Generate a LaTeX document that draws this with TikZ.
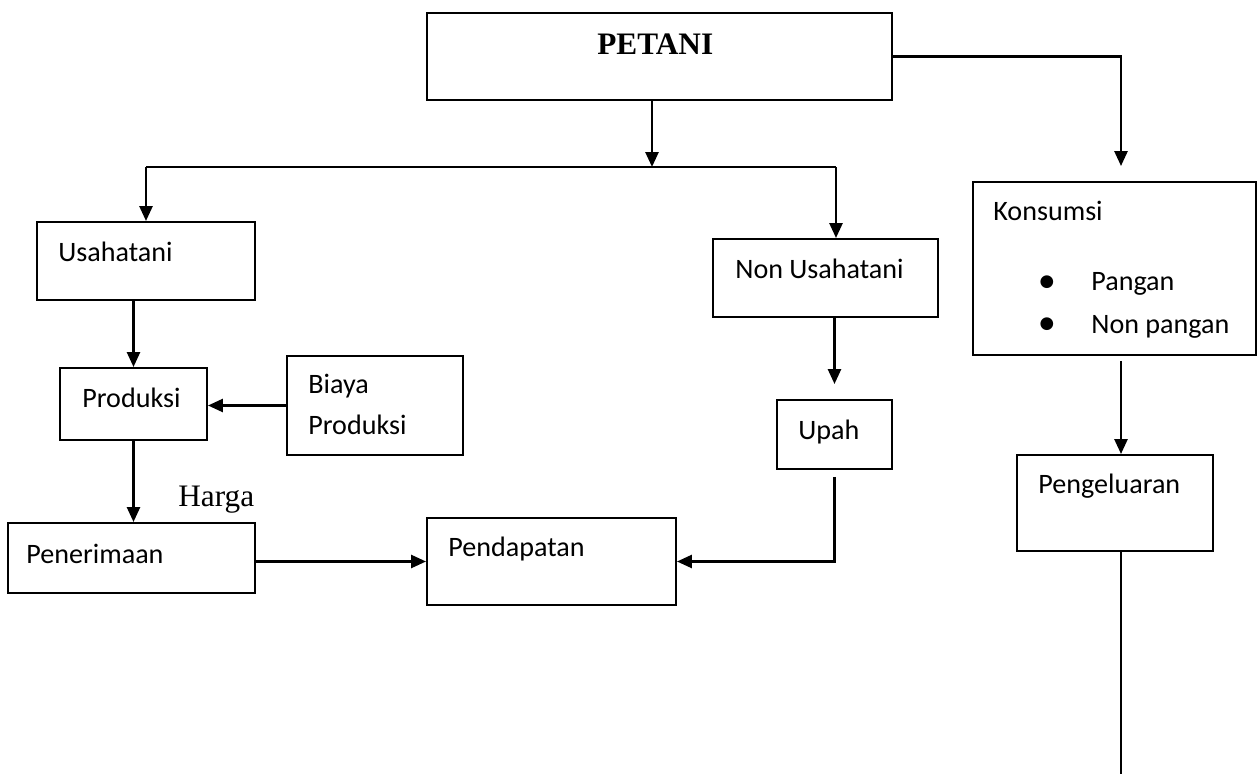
\documentclass[tikz,border=0pt]{standalone}
\usepackage{fontspec}
\setmainfont{Carlito}
\newfontfamily\timesfont{Liberation Serif}
\newfontfamily\dotfont{DejaVu Sans}
\usepackage{tikz}
\usetikzlibrary{fit}
\usetikzlibrary{positioning, shapes, arrows.meta, calc}

\tikzset{
    box/.style={draw, line width=1.1pt, inner sep=0pt},
    txt/.style={anchor=base west, inner sep=0pt, font=\fontsize{16}{19}\selectfont},
    serif/.style={anchor=base west, inner sep=0pt, font=\timesfont\fontsize{17.8}{21}\selectfont},
    dot/.style={inner sep=0pt, font=\dotfont\fontsize{9.5}{11}\selectfont},
    line/.style={line width=1.5pt},
    conn/.style={line width=1.5pt, -{Triangle[length=0.3cm, width=0.26cm]}}
}

\begin{document}
\begin{tikzpicture}[x=0.02cm, y=-0.02cm]
        \useasboundingbox (0,0) rectangle (1259,774);

        % Draw the boxes
        \node[box, fit={(427,13) (892,100)}] (petani) {};
        \node[box, fit={(37,222) (255,300)}] (usaha) {};
        \node[box, fit={(60,368) (207,440)}] (produksi) {};
        \node[box, fit={(287,356) (463,455)}] (biaya) {};
        \node[box, fit={(8,523) (255,593)}] (terima) {};
        \node[box, fit={(427,518) (676,605)}] (dapat) {};
        \node[box, fit={(713,239) (938,317)}] (nonusaha) {};
        \node[box, fit={(777,400) (892,469)}] (upah) {};
        \node[box, fit={(973,182) (1256,355)}] (konsumsi) {};
        \node[box, fit={(1017,455) (1213,551)}] (keluar) {};

        % Texts in the boxes
        \node[serif, font=\timesfont\bfseries\fontsize{17.8}{21}\selectfont] (petaniT) at (597,54) {PETANI};
        \node[txt] (usahaT) at (58,261) {Usahatani};
        \node[txt] (produksiT) at (82,407) {Produksi};
        \node[txt] (biayaT) at (308,393) {Biaya};
        \node[txt] (biayaT2) at (308,434) {Produksi};
        \node[txt] (terimaT) at (26,563) {Penerimaan};
        \node[txt] (dapatT) at (448,556) {Pendapatan};
        \node[txt] (nonusahaT) at (735,278) {Non Usahatani};
        \node[txt] (upahT) at (798,439) {Upah};
        \node[txt] (konsumsiT) at (993,220) {Konsumsi};
        \node[dot] (dot1) at (1047,282) {●};
        \node[txt] (panganT) at (1091,290) {Pangan};
        \node[dot] (dot2) at (1047,324) {●};
        \node[txt] (nonpanganT) at (1091,333) {Non pangan};
        \node[txt] (keluarT) at (1038,493) {Pengeluaran};
        \node[serif] (harga) at (178,506) {Harga};

        % Draw the connectors
        \coordinate (busL) at (146,167);
        \coordinate (busR) at (836,167);
        \coordinate (kanan) at (1121,0);
        \coordinate (ujung) at (1121,774);
        \draw[conn] ([xshift=-0.15cm]petani.south) -- ([xshift=-0.15cm]petani.south |- busL);
        \draw[line] (busL) -- (busR);
        \draw[conn] (busL) -- (busL |- usaha.north);
        \draw[conn] (busR) -- (busR |- nonusaha.north);
        \draw[conn] (produksi.north |- usaha.south) -- (produksi.north);
        \draw[conn] (biaya.west) -- (produksi.east |- biaya.west);
        \draw[conn] (produksi.south) -- (terima.north -| produksi.south);
        \draw[conn] (terima.east |- dapat.west) -- (dapat.west);
        \draw[conn, shorten >=0.3cm] (upah.north |- nonusaha.south) -- (upah.north);
        \draw[conn] ([yshift=-0.14cm]upah.south) -- (upah.south |- dapat.east) -- (dapat.east);
        \draw[conn, shorten >=0.3cm] (petani.east) -| (kanan |- konsumsi.north);
        \draw[conn] ([yshift=-0.1cm]kanan |- konsumsi.south) -- (kanan |- keluar.north);
        \draw[line] (kanan |- keluar.south) -- (ujung);
    \end{tikzpicture}
\end{document}
